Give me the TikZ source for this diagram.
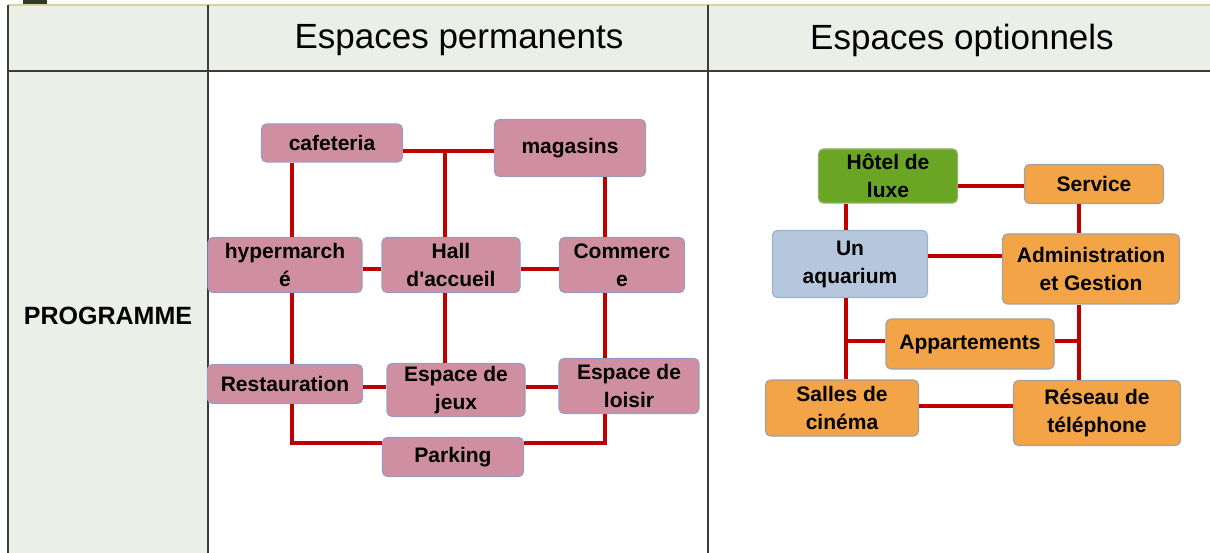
\documentclass[tikz,border=0pt]{standalone}
\usepackage{fontspec}
\setmainfont{Liberation Sans}[Ligatures=TeXOff]
\definecolor{tablebg}{HTML}{ECEEE8}
\definecolor{gridline}{HTML}{3C3C3C}
\definecolor{topline}{HTML}{D8D2A0}
\definecolor{pinkfill}{HTML}{D08FA1}
\definecolor{pinkdraw}{HTML}{9A9CC4}
\definecolor{orangefill}{HTML}{F2A446}
\definecolor{orangedraw}{HTML}{A2A2A2}
\definecolor{greenfill}{HTML}{6AA624}
\definecolor{greendraw}{HTML}{8FB06A}
\definecolor{bluefill}{HTML}{B5C7DD}
\definecolor{bluedraw}{HTML}{9AB2CE}
\definecolor{linkred}{HTML}{C00000}
\definecolor{darkmark}{HTML}{2E3A22}
\tikzset{
  box/.style={rounded corners=5pt, line width=1.2pt, align=center, inner sep=0pt,
    font=\fontsize{21}{28}\selectfont\bfseries},
  pinkbox/.style={box, fill=pinkfill, draw=pinkdraw},
  orangebox/.style={box, fill=orangefill, draw=orangedraw},
  greenbox/.style={box, fill=greenfill, draw=greendraw},
  bluebox/.style={box, fill=bluefill, draw=bluedraw},
  link/.style={draw=linkred, line width=4.5pt},
  grid/.style={draw=gridline, line width=1.8pt},
  head/.style={font=\fontsize{35}{40}\selectfont},
}
\begin{document}
\begin{tikzpicture}[x=1pt,y=-1pt]
\useasboundingbox (0,0) rectangle (1210,553);
% table backgrounds
\fill[tablebg] (8,5) rectangle (1210,71);
\fill[tablebg] (8,71) rectangle (208,553);
\fill[darkmark] (23,0) rectangle (47,5);
\draw[topline, line width=1.5pt] (8,5) -- (1210,5);
\draw[grid] (8,71) -- (1210,71);
\draw[grid] (8,5) -- (8,553);
\draw[grid] (208,5) -- (208,553);
\draw[grid] (708,5) -- (708,553);
% headers
\node[head] (h1) at (459,40) {Espaces permanents};
\node[head] (h2) at (962,40) {Espaces optionnels};
\node[font=\fontsize{25}{30}\selectfont\bfseries] (prog) at (108,316) {PROGRAMME};
% left diagram nodes
\node[pinkbox, minimum width=141pt, minimum height=38pt] (caf) at (332,143) {cafeteria};
\node[pinkbox, minimum width=151pt, minimum height=57pt] (mag) at (570,148) {magasins};
\node[pinkbox, minimum width=154pt, minimum height=55pt] (hyp) at (285,265) {hypermarch\\é};
\node[pinkbox, minimum width=138pt, minimum height=55pt] (hall) at (451,265) {Hall\\d'accueil};
\node[pinkbox, minimum width=125pt, minimum height=55pt] (com) at (622,265) {Commerc\\e};
\node[pinkbox, minimum width=155pt, minimum height=39pt] (rest) at (285,384) {Restauration};
\node[pinkbox, minimum width=138pt, minimum height=53pt] (jeux) at (456,390) {Espace de\\jeux};
\node[pinkbox, minimum width=140pt, minimum height=55pt] (lois) at (629,386) {Espace de\\loisir};
\node[pinkbox, minimum width=141pt, minimum height=39pt] (park) at (453,457) {Parking};
% left connectors
\coordinate (cm) at (445,151);
\coordinate (lx) at (292,0);
\coordinate (rx) at (605,0);
\coordinate (hy) at (0,269);
\coordinate (ry) at (0,387);
\coordinate (pk) at (0,443);
\draw[link] (caf.east |- cm) -- (mag.west |- cm);
\draw[link] (cm) -- (hall.north -| cm);
\draw[link] (caf.south -| lx) -- (hyp.north -| lx);
\draw[link] (mag.south -| rx) -- (com.north -| rx);
\draw[link] (hyp.east |- hy) -- (hall.west |- hy);
\draw[link] (hall.east |- hy) -- (com.west |- hy);
\draw[link] (hyp.south -| lx) -- (rest.north -| lx);
\draw[link] (hall.south -| cm) -- (jeux.north -| cm);
\draw[link] (com.south -| rx) -- (lois.north -| rx);
\draw[link] (rest.east |- ry) -- (jeux.west |- ry);
\draw[link] (jeux.east |- ry) -- (lois.west |- ry);
\draw[link] (rest.south -| lx) |- (park.west |- pk);
\draw[link] (park.east |- pk) -| (lois.south -| rx);
% right diagram nodes
\node[greenbox, minimum width=139pt, minimum height=54pt] (hot) at (888,176) {Hôtel de\\luxe};
\node[orangebox, minimum width=139pt, minimum height=39pt] (serv) at (1094,184) {Service};
\node[bluebox, minimum width=155pt, minimum height=67pt] (aq) at (850,264) {Un\\aquarium};
\node[orangebox, minimum width=177pt, minimum height=70pt] (adm) at (1091,269) {Administration\\et Gestion};
\node[orangebox, minimum width=168pt, minimum height=50pt] (app) at (970,344) {Appartements};
\node[orangebox, minimum width=153pt, minimum height=56pt] (sal) at (842,408) {Salles de\\cinéma};
\node[orangebox, minimum width=167pt, minimum height=65pt] (res) at (1097,413) {Réseau de\\téléphone};
% right connectors
\coordinate (ax) at (846,0);
\coordinate (bx) at (1079,0);
\coordinate (ay) at (0,341);
\draw[link] (hot.east |- 0,186) -- (serv.west |- 0,186);
\draw[link] (hot.south -| ax) -- (aq.north -| ax);
\draw[link] (serv.south -| bx) -- (adm.north -| bx);
\draw[link] (aq.east |- 0,256) -- (adm.west |- 0,256);
\draw[link] (aq.south -| ax) -- (sal.north -| ax);
\draw[link] (adm.south -| bx) -- (res.north -| bx);
\draw[link] (ax |- ay) -- (app.west |- ay);
\draw[link] (bx |- ay) -- (app.east |- ay);
\draw[link] (sal.east |- 0,406) -- (res.west |- 0,406);
\end{tikzpicture}
\end{document}
